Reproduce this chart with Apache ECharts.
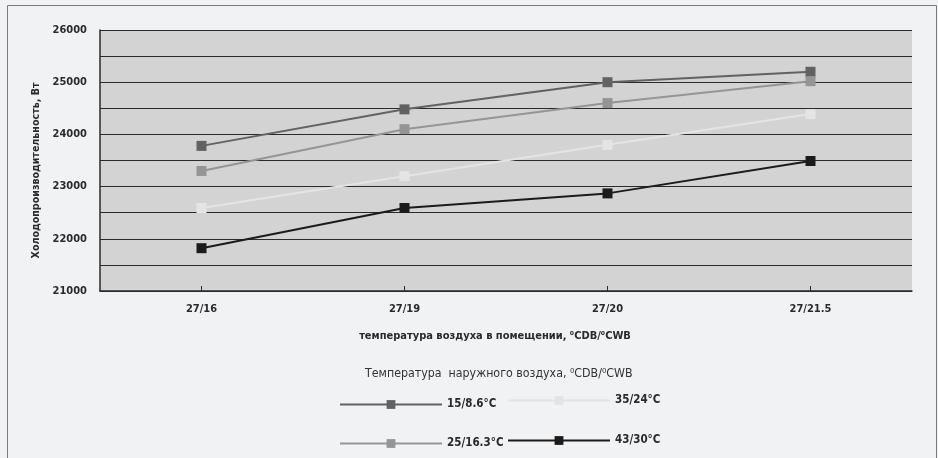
<!DOCTYPE html>
<html>
<head>
<meta charset="utf-8">
<script src="https://cdn.jsdelivr.net/npm/echarts@6/dist/echarts.min.js"></script>
<style>
  html, body { margin: 0; padding: 0; background: #f1f2f4; }
  #chart { width: 938px; height: 458px; }
</style>
</head>
<body>
<div id="chart"></div>
<script>
// Indoor air conditions (dry bulb / wet bulb)
const categories = ['27/16', '27/19', '27/20', '27/21.5'];

// Cooling capacity, W, per outdoor condition
const seriesNames = ['15/8.6°C', '25/16.3°C', '35/24°C', '43/30°C'];
const cap_15 = [23780, 24480, 25000, 25200];
const cap_25 = [23300, 24100, 24600, 25020];
const cap_35 = [22590, 23200, 23800, 24390];
const cap_43 = [21820, 22590, 22870, 23490];

// Labelled values on the capacity axis
const yTickLabels = [21000, 22000, 23000, 24000, 25000, 26000];

const FONT = "'Liberation Sans Narrow', 'Arial Narrow', 'DejaVu Sans Condensed', sans-serif";
const colors = ['#626262', '#959595', '#e4e4e4', '#1d1a1a'];
const values = [cap_15, cap_25, cap_35, cap_43];

const chart = echarts.init(document.getElementById('chart'), null, { renderer: 'canvas' });

// One legend block per series so the items sit in a 2 x 2 arrangement
const legendPos = [
  { left: 339, top: 398.5 },
  { left: 339, top: 437.5 },
  { left: 507, top: 394.5 },
  { left: 507, top: 434.5 }
];

const option = {
  backgroundColor: '#f1f2f4',
  animation: false,
  title: {
    text: 'Температура  наружного воздуха, ⁰CDB/⁰CWB',
    left: 365,
    top: 368,
    padding: 0,
    textStyle: { fontFamily: FONT, fontSize: 12.3, fontWeight: 'normal', color: '#333' }
  },
  grid: {
    left: 100, right: 26, top: 30, bottom: 167,
    show: true, backgroundColor: '#d3d3d3', borderWidth: 0
  },
  legend: seriesNames.map((name, i) => ({
    data: [name],
    left: legendPos[i].left,
    top: legendPos[i].top,
    padding: 0,
    orient: 'horizontal',
    itemWidth: 102,
    itemHeight: 11,
    selectedMode: false,
    textStyle: { fontFamily: FONT, fontSize: 11.5, fontWeight: 'bold', color: '#2a2a2a' }
  })),
  xAxis: {
    type: 'category',
    data: categories,
    boundaryGap: true,
    name: 'температура воздуха в помещении, ⁰CDB/⁰CWB',
    nameLocation: 'middle',
    nameGap: 40,
    nameTextStyle: { fontFamily: FONT, fontSize: 11, fontWeight: 'bold', color: '#2a2a2a', padding: [0, 22, 0, 0] },
    axisLine: { show: true, lineStyle: { color: '#2a2a2a', width: 1.5 } },
    axisTick: { show: true, alignWithLabel: true, inside: true, length: 5, lineStyle: { color: '#2a2a2a' } },
    axisLabel: { fontFamily: FONT, fontSize: 11, fontWeight: 'bold', color: '#2a2a2a', margin: 13 },
    splitLine: { show: false }
  },
  yAxis: {
    type: 'value',
    min: 21000,
    max: 26000,
    interval: 500,
    name: 'Холодопроизводительность, Вт',
    nameLocation: 'middle',
    nameGap: 56,
    nameRotate: 90,
    nameTextStyle: { fontFamily: FONT, fontSize: 10.6, fontWeight: 'bold', color: '#2a2a2a', padding: [0, 20, 0, 0] },
    axisLine: { show: true, lineStyle: { color: '#2a2a2a', width: 1.5 } },
    axisTick: { show: false },
    axisLabel: {
      fontFamily: FONT, fontSize: 11, fontWeight: 'bold', color: '#2a2a2a', margin: 13,
      formatter: v => (yTickLabels.indexOf(v) >= 0 ? String(v) : '')
    },
    splitLine: { show: true, lineStyle: { color: '#2b2b2b', width: 1.2 } }
  },
  series: seriesNames.map((name, i) => ({
    name: name,
    type: 'line',
    data: values[i],
    symbol: 'rect',
    symbolSize: 10,
    showSymbol: true,
    lineStyle: { color: colors[i], width: 2 },
    itemStyle: { color: colors[i], borderWidth: 0 },
    emphasis: { disabled: true }
  })),
  graphic: [
    {
      type: 'rect',
      silent: true,
      shape: { x: 7.5, y: 5.5, width: 929, height: 470 },
      style: { fill: 'none', stroke: '#7a7a7a', lineWidth: 1 }
    }
  ]
};

chart.setOption(option);
</script>
</body>
</html>
